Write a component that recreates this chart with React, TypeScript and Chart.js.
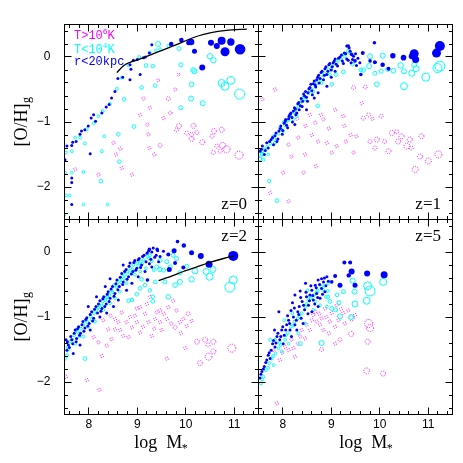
import React, { useEffect, useRef } from 'react';
import { Chart, registerables } from 'chart.js';
Chart.register(...registerables);

const W = 463, H = 463;
const X_MIN = 7.5, X_MAX = 11.5, Y_MIN = -2.5, Y_MAX = 0.5;

// ---------- z = 0 ----------
const z0Inner = [
  [10.11,0.23,3.3],[10.06,0.22,2.5],[10.18,0.09,2.5],[10.52,0.22,3],[10.64,0.17,3],[10.74,0.25,4],[10.93,0.23,3.7],[10.81,0.08,4.5],[11.12,0.12,5.3],[10.34,-0.16,3],[9.91,0.26,2.3],[9.70,0.20,2.3],
  [9.30,0.19],[9.25,0.06],[9.17,0.00],[9.13,-0.01],[9.00,-0.04],[8.92,-0.05],[8.85,-0.12],[8.87,-0.19],[8.70,-0.31],[8.85,-0.35],[8.60,-0.33],[9.06,-0.27],[8.54,-0.53],[8.47,-0.63],[8.42,-0.73],[8.36,-0.77],[8.27,-0.86],[8.10,-0.89],[8.05,-0.94],[8.14,-0.99],[7.99,-1.06],[7.92,-1.12],[7.85,-1.14],[7.82,-1.19],[7.74,-1.30],[7.67,-1.31],[7.65,-1.36],[7.55,-1.37],[8.03,-1.49],[7.65,-1.86],[7.65,-1.93],[7.65,-2.27],[7.51,-1.58]
];
const z0Cold = [
  [11.11,-0.57,5],[10.81,-0.45,4],[10.74,-0.40,3.5],[10.93,-0.36,4],[10.50,0.01,2.7],[10.57,-0.05,2.7],[10.35,-0.71,2.5],[10.11,-0.64,2.5],[10.18,-0.22,2.5],[10.15,-0.20,2.3],[10.12,-0.42,2.3],[9.90,-0.12,2],[9.90,-0.78,2],[9.86,0.13,2],[9.43,0.20,2.5],[9.32,-0.14,1.8],[9.18,-0.13,1.8],[9.37,-0.44,1.8],[9.09,-0.47,1.8],[8.73,-0.65,1.8],[8.93,-1.07,1.8],[8.61,-1.19,1.8],[8.63,-1.61,1.8],[8.25,-1.91,1.8],
  [7.89,-1.77],[7.89,-2.27],[8.39,-2.27],[8.32,-1.22],[8.27,-1.45],[7.92,-1.33],[7.82,-1.24],[9.64,0.17],[9.47,0.12],[9.38,0.10],[9.26,0.07],[9.04,0.00],[8.82,-0.13],[8.68,-0.32],[8.58,-0.49],[8.44,-0.72],[8.29,-0.83],[8.20,-0.91],[8.10,-1.02],[7.96,-1.11],[7.72,-1.24],[7.65,-1.45],[7.65,-1.78],[7.53,-1.47],[7.51,-1.78],[7.53,-2.13],[7.50,-2.42],[7.60,-2.13]
];
const z0Hot = [
  [11.10,-1.51,4],[10.84,-1.42,3.5],[10.76,-1.36,3],[10.74,-1.12,2.5],[10.58,-1.14,2.5],[10.34,-1.31,2.5],[10.12,-1.26,2.5],[10.16,-1.06,2.5],[9.86,-1.06,2.5],[9.81,-1.12,2],[9.64,-0.64,2],[9.68,-0.86,1.8],[9.78,-0.50,1.5],[9.85,-0.27,1.5],[9.43,-0.36,1.5],[9.47,-1.36,2],[9.35,-1.50,1.7],
  [9.25,-1.40],[9.23,-1.19],[9.06,-0.89],[9.26,-0.78],[9.13,-0.64],[9.54,-0.94],[9.21,-1.04],[8.65,-1.41,1.7],[8.56,-1.50],[8.68,-1.71],[8.89,-1.81],[8.51,-1.32],[8.20,-1.81],[7.72,-1.73],[10.57,-1.47,2],[10.64,-1.37,2],[10.71,-1.45,2],[10.54,-1.22,2],[10.23,-1.16,2],[10.02,-1.17,2],[10.12,-1.19,2]
];
const z0Line = [[8.58,-0.24],[8.71,-0.14],[8.82,-0.09],[9.13,-0.01],[9.47,0.09],[9.81,0.19],[10.16,0.30],[10.50,0.37],[10.84,0.41],[11.26,0.43]];

// ---------- z = 1 ----------
const z1Inner = [
  [11.24,0.17,5],[11.17,0.06,4.5],[10.71,0.05,4.5],[10.74,-0.04,3.5],[10.66,0.01,3],[10.49,-0.01,2.8],[10.27,0.02,2.7],[10.06,-0.12,2.3],[10.18,-0.18,2],[9.89,0.22,1.8],[9.90,-0.08,2],[9.80,-0.06,1.8],[9.65,0.06,2],[9.61,-0.27,1.8],[9.49,-0.06,1.8],[9.42,0.04,1.8],[9.35,0.17,1.8],
  [7.53,-1.45],[7.58,-1.37],[7.62,-1.50],[7.67,-1.32],[7.70,-1.40],[7.76,-1.27],[7.81,-1.35],[7.84,-1.21],[7.88,-1.30],[7.92,-1.14],[7.96,-1.06],[7.99,-1.19],[8.03,-1.02],[8.06,-0.96],[8.10,-1.09],[8.13,-0.91],[8.17,-0.86],[8.20,-1.00],[8.24,-0.78],[8.27,-0.89],[8.31,-0.72],[8.34,-0.81],[8.38,-0.64],[8.40,-0.76],[8.45,-0.60],[8.47,-0.53],[8.51,-0.68],[8.54,-0.49],[8.58,-0.42],[8.61,-0.58],[8.65,-0.37],[8.68,-0.46],[8.72,-0.31],[8.75,-0.40],[8.79,-0.24],[8.84,-0.35],[8.87,-0.18],[8.91,-0.27],[8.95,-0.12],[9.00,-0.20],[9.04,-0.09],[9.08,-0.03],[9.13,-0.14],[9.18,0.00],[9.23,-0.06],[9.27,0.06],[9.32,-0.03],[9.37,0.14],[9.41,-0.09],[9.46,0.01],[8.65,-0.63],[8.49,-0.81],[8.25,-1.04],[8.73,-0.55],[8.91,-0.45],[9.00,-0.31],[9.08,-0.22],[9.52,-0.13],[9.59,-0.09],[9.32,0.17],
  [7.56,-1.42],[7.64,-1.44],[7.73,-1.30],[7.79,-1.24],[7.86,-1.17],[7.90,-1.26],[7.95,-1.10],[8.00,-1.13],[8.05,-0.99],[8.08,-1.05],[8.12,-0.95],[8.15,-0.88],[8.19,-0.93],[8.22,-0.83],[8.26,-0.80],[8.29,-0.86],[8.33,-0.70],[8.36,-0.75],[8.41,-0.68],[8.43,-0.57],[8.49,-0.62],[8.52,-0.55],[8.56,-0.47],[8.60,-0.52],[8.63,-0.41],[8.67,-0.43],[8.70,-0.35],[8.74,-0.28],[8.77,-0.33],[8.81,-0.22],[8.86,-0.28],[8.89,-0.15],[8.93,-0.22],[8.97,-0.10],[9.02,-0.15],[9.06,-0.06],[9.10,-0.11],[9.15,-0.02],[9.21,0.03],[9.25,-0.10],[9.30,0.05],[9.35,-0.05],[9.39,0.09],[9.44,-0.04],[9.50,0.05],[9.55,-0.02]
];
const z1Cold = [
  [11.24,-0.14,5],[11.19,-0.17,4.5],[10.95,-0.31,4],[10.50,-0.45,3.5],[10.75,-0.18,3],[10.66,-0.25,3],[10.71,-0.12,2.5],[10.43,-0.13,2.8],[10.50,-0.22,2.5],[10.28,-0.21,2.3],[10.06,0.02,2.5],[9.94,-0.42,2.3],[9.80,0.01,2.5],[9.78,-0.14,2.5],[9.66,-0.20,2.2],[9.90,-0.25,2],[10.03,-0.22,2],[10.16,-0.19,2],[9.61,-0.20,1.8],[9.44,-0.11,1.8],[9.25,-0.23,1.8],[9.10,-0.27,1.8],[9.01,-0.42,1.8],[8.72,-0.75,1.8],[7.88,-2.21,1.8],[7.72,-1.91,1.6],[7.53,-1.57,1.8],[7.57,-1.49,1.6],
  [7.55,-1.53],[7.63,-1.42],[7.74,-1.33],[7.83,-1.26],[7.91,-1.18],[7.98,-1.12],[8.05,-1.05],[8.12,-0.97],[8.18,-0.92],[8.24,-0.85],[8.32,-0.76],[8.39,-0.68],[8.46,-0.65],[8.53,-0.56],[8.60,-0.50],[8.67,-0.44],[8.77,-0.35],[8.84,-0.29],[8.94,-0.19],[9.02,-0.14],[9.11,-0.09],[9.20,-0.03],[9.28,0.01],[9.39,0.06],[8.22,-0.96],[8.01,-1.14],[7.84,-1.32],[8.29,-0.91],[8.63,-0.53],[8.80,-0.40],[8.08,-0.99],[8.97,-0.27],[7.70,-1.50],[7.60,-1.58],
  [7.58,-1.46],[7.68,-1.38],[7.80,-1.22],[7.94,-1.09],[8.02,-1.00],[8.15,-0.90],[8.27,-0.80],[8.36,-0.71],[8.43,-0.62],[8.56,-0.52],[8.70,-0.40],[8.86,-0.25],[9.00,-0.18],[9.15,-0.05],[9.24,0.04],[9.34,0.09]
];
const z1Hot = [
  [11.21,-1.50,3.5],[11.00,-1.60,3],[10.73,-1.73,3],[10.56,-1.37,3],[10.45,-1.22,2.5],[10.62,-1.27,2.5],[10.25,-1.17,2.5],[9.94,-1.27,2.5],[9.80,-1.30,2],[9.66,-0.94,2],[9.77,-0.89,2],[10.03,-0.91,2],[9.52,-1.22],[9.46,-0.47,2],[9.70,-0.46,2],[9.27,-1.06],[9.25,-0.91],[9.11,-1.37],[9.01,-1.47],[8.91,-1.32],[8.73,-1.30],[8.67,-1.01],[8.47,-1.06],[8.46,-1.50],[8.32,-1.24],[8.18,-1.53],[8.12,-1.35],[8.01,-1.78],[7.74,-2.09],[8.12,-2.22],[8.68,-1.68],[8.43,-1.78],[9.46,-1.47],[9.08,-0.81],[7.84,-0.50],[7.58,-0.65],[10.18,-1.45,2.5],[10.38,-1.30,2.5],[10.83,-1.53,2.5],[10.86,-1.22,2.5],[9.63,-0.71],[8.79,-0.89],[8.84,-0.96],[8.56,-0.89],
  [9.30,-1.30],[9.40,-1.20],[9.85,-0.95],[9.90,-1.40,2],[10.10,-1.30,2],[10.35,-1.15,2],[10.65,-1.40,2],[8.95,-1.10],[8.60,-1.20],[8.30,-0.95]
];

// ---------- z = 2 ----------
const z2Inner = [
  [10.98,-0.06,5],[10.48,-0.19,3.5],[10.31,-0.06,3],[10.12,-0.01,2.5],[9.96,0.10,2.2],[9.83,0.16,1.8],[9.76,0.02,2.5],[9.64,-0.04,2],[9.66,-0.27,2.5],[9.78,-0.17,2],[9.95,-0.24,2],[9.21,-0.43,1.8],[9.25,0.04,1.8],[9.41,0.04,1.8],
  [7.53,-1.35],[7.55,-1.51],[7.58,-1.43],[7.63,-1.30],[7.67,-1.41],[7.72,-1.20],[7.75,-1.33],[7.79,-1.15],[7.83,-1.25],[7.88,-1.07],[7.92,-1.17],[7.96,-1.01],[8.01,-1.10],[8.06,-0.92],[8.10,-1.02],[8.15,-0.84],[8.18,-0.94],[8.23,-0.75],[8.27,-0.87],[8.31,-0.69],[8.36,-0.80],[8.40,-0.61],[8.44,-0.71],[8.49,-0.53],[8.54,-0.64],[8.58,-0.43],[8.63,-0.53],[8.68,-0.33],[8.71,-0.46],[8.77,-0.27],[8.82,-0.38],[8.85,-0.17],[8.91,-0.30],[8.95,-0.13],[8.99,-0.25],[9.04,-0.10],[9.09,-0.20],[9.14,-0.05],[9.18,-0.15],[9.23,0.01],[9.28,-0.11],[9.33,0.06],[9.39,-0.05],[9.44,-0.15],[8.51,-0.84],[8.37,-0.94],[8.23,-1.00],[8.61,-0.74],[8.78,-0.59],[8.89,-0.48],[9.02,-0.38],[9.16,-0.30],[9.30,-0.23],[9.47,-0.07],[9.54,0.01],[8.03,-1.20],[7.82,-1.43],[7.68,-1.56],[8.44,-0.41],[8.71,-0.20],[8.34,-0.53],[8.16,-0.69],[7.99,-0.84],
  [7.56,-1.38],[7.60,-1.47],[7.65,-1.35],[7.70,-1.25],[7.74,-1.38],[7.77,-1.18],[7.81,-1.28],[7.86,-1.12],[7.90,-1.22],[7.94,-1.04],[7.98,-1.14],[8.03,-0.96],[8.08,-1.06],[8.12,-0.88],[8.20,-0.80],[8.25,-0.91],[8.29,-0.72],[8.33,-0.84],[8.38,-0.65],[8.42,-0.76],[8.46,-0.57],[8.52,-0.68],[8.56,-0.49],[8.60,-0.58],[8.65,-0.39],[8.70,-0.50],[8.74,-0.30],[8.79,-0.42],[8.83,-0.22],[8.88,-0.34],[8.93,-0.16],[8.97,-0.28],[9.02,-0.12],[9.07,-0.24],[9.11,-0.07],[9.20,-0.02],[9.25,-0.18],[9.30,0.00],[9.36,-0.08],[9.42,0.02]
];
const z2Cold = [
  [10.91,-0.54,5],[10.98,-0.43,4],[10.56,-0.27,3],[10.49,-0.38,3.5],[10.42,-0.30,3],[10.19,-0.29,3],[10.12,-0.42,2.7],[9.88,-0.46,2.5],[9.78,-0.51,2.3],[9.64,-0.69,2.3],[9.57,-0.46,2],[10.02,-0.22,2],[9.47,-0.27,2.2],[9.32,-0.69,1.8],[9.32,-0.76,1.8],[9.26,-0.59,1.8],[9.16,-0.51,1.8],[9.06,-0.56,1.8],[8.99,-0.65,1.8],[8.89,-0.74,1.8],[8.82,-0.75,1.8],[9.09,-0.42,1.8],[9.37,-0.46,1.8],[7.92,-1.64,1.8],[7.51,-1.64,1.6],[7.55,-1.59,1.6],
  [9.47,-0.13,2],[9.40,-0.23,2],[9.54,-0.28,2],[9.68,-0.23,2],[9.61,-0.15,2],[9.81,-0.10,2],[9.74,-0.05,2],[9.88,-0.32,2],
  [7.56,-1.46],[7.61,-1.38],[7.70,-1.28],[7.77,-1.23],[7.81,-1.30],[7.89,-1.12],[7.94,-1.05],[7.99,-1.15],[8.04,-0.99],[8.11,-0.94],[8.16,-0.89],[8.22,-0.82],[8.29,-0.76],[8.34,-0.74],[8.38,-0.69],[8.42,-0.66],[8.47,-0.59],[8.52,-0.51],[8.59,-0.48],[8.64,-0.43],[8.70,-0.38],[8.75,-0.35],[8.80,-0.30],[8.86,-0.25],[8.92,-0.20],[9.00,-0.17],[9.07,-0.15],[9.13,-0.12],[9.21,-0.07],[9.26,-0.05],[8.78,-0.48],[8.64,-0.61],[8.54,-0.71],[8.44,-0.79],[8.30,-0.89],[8.13,-1.07],[7.89,-1.30],[7.72,-1.41],[9.18,-0.25],[9.06,-0.30],[8.95,-0.35],
  [7.58,-1.50],[7.66,-1.35],[7.74,-1.20],[7.84,-1.18],[7.97,-1.08],[8.06,-1.04],[8.19,-0.86],[8.26,-0.82],[8.36,-0.70],[8.49,-0.62],[8.57,-0.54],[8.67,-0.47],[8.73,-0.41],[8.84,-0.32],[8.90,-0.27],[9.03,-0.21],[9.10,-0.18],[9.24,-0.10],[9.30,-0.14],[9.34,-0.28]
];
const z2Hot = [
  [10.95,-1.48,4],[10.47,-1.61,3.5],[10.29,-1.71,2.5],[10.40,-1.35,2.5],[10.23,-1.38,2.5],[10.57,-1.53,2.5],[10.57,-1.38,2.5],[10.05,-0.95,2],[9.95,-1.03],[9.78,-1.16,2],[9.81,-0.90],[9.74,-0.75],[9.61,-1.03],[9.47,-0.90],[9.47,-1.08],[9.37,-1.03],[9.30,-1.29],[9.23,-1.08],[9.16,-0.95],[9.06,-0.85],[8.99,-1.08],[8.89,-1.16],[8.82,-1.31],[8.71,-1.29],[8.68,-0.93],[8.61,-1.08],[8.54,-1.19],[8.47,-1.34],[8.37,-1.44],[8.27,-1.60],[8.20,-1.39],[8.10,-1.31],[7.96,-1.97],[8.22,-2.12],[7.53,-1.92],[8.40,-1.19],[8.78,-1.08],[9.88,-1.08],[10.12,-1.06],[10.02,-1.14],[9.06,-1.24],[9.64,-0.85],[9.26,-0.69],[8.99,-0.87],[8.54,-1.03],[9.61,-1.64],[9.40,-0.93],[9.99,-1.48],[10.46,-1.43,2],
  [8.30,-1.05],[8.45,-0.98],[8.65,-1.20],[8.95,-0.98],[9.12,-1.15],[9.35,-1.18],[9.55,-0.95],[9.70,-1.10],[9.90,-1.25],[8.85,-1.00],[9.20,-0.80],[9.50,-1.20]
];
const z2Line = [[9.44,-0.44],[9.68,-0.38],[9.95,-0.30],[10.23,-0.23],[10.50,-0.16],[10.78,-0.10],[11.00,-0.06]];

// ---------- z = 5 ----------
const z5Inner = [
  [10.09,-0.35,3.5],[9.74,-0.33,3],[9.49,-0.51,2.5],[9.42,-0.30,3],[9.18,-0.51,2.5],[9.27,-0.16,2],[9.39,-0.16,2],[9.08,-0.37,2],[9.01,-0.46,1.8],[9.36,-0.36,2.2],
  [7.53,-1.94],[7.57,-1.84],[7.62,-1.76],[7.67,-1.66],[7.70,-1.59],[7.76,-1.51],[7.79,-1.41],[7.84,-1.46],[7.88,-1.30],[7.92,-0.92],[7.94,-1.35],[7.98,-1.20],[8.03,-1.28],[8.08,-1.12],[8.12,-1.05],[8.15,-1.20],[8.20,-0.78],[8.22,-1.00],[8.25,-1.12],[8.31,-0.92],[8.34,-0.84],[8.38,-1.02],[8.40,-0.76],[8.45,-0.89],[8.47,-0.48],[8.49,-0.69],[8.53,-0.82],[8.56,-0.66],[8.60,-0.59],[8.63,-0.74],[8.67,-0.51],[8.70,-0.64],[8.73,-0.43],[8.77,-0.71],[8.80,-0.56],[8.84,-0.46],[8.87,-0.61],[8.91,-0.38],[7.83,-1.20],[8.01,-1.41],[8.18,-1.30],[8.29,-1.20],[8.42,-1.10],[8.60,-0.92],[8.73,-0.84],[8.80,-0.41],[8.25,-0.66],[8.36,-0.60],
  [7.55,-1.88],[7.60,-1.80],[7.65,-1.70],[7.72,-1.55],[7.74,-1.64],[7.81,-1.36],[7.86,-1.40],[7.90,-1.25],[7.96,-1.30],[8.00,-1.15],[8.06,-1.20],[8.10,-0.98],[8.14,-1.10],[8.17,-0.90],[8.24,-0.86],[8.28,-1.05],[8.33,-0.96],[8.37,-0.70],[8.43,-0.82],[8.48,-0.62],[8.52,-0.95],[8.55,-0.75],[8.58,-0.52],[8.62,-0.67],[8.66,-0.80],[8.69,-0.55],[8.72,-0.70],[8.76,-0.50],[8.82,-0.65],[8.86,-0.40],[8.89,-0.52],[8.94,-0.45]
];
const z5Cold = [
  [10.07,-0.46,3.5],[9.80,-0.60,5],[9.75,-0.52,4],[9.73,-0.75,3.5],[9.48,-0.61,2.5],[9.49,-0.80,3],[9.44,-0.44,2.5],[9.41,-1.00,2.5],[9.18,-0.99,2.5],[9.25,-0.61,2],[9.16,-0.78,2],[9.09,-0.89,2],[9.01,-0.87,2],[8.80,-1.40,2.5],[8.36,-1.41,2],[9.12,-0.66,1.8],[8.93,-0.69,1.8],[8.97,-0.76,1.8],
  [7.55,-2.02],[7.60,-1.92],[7.65,-1.82],[7.72,-1.71],[7.77,-1.64],[7.81,-1.74],[7.85,-1.56],[7.91,-1.48],[7.96,-1.43],[8.05,-1.35],[8.10,-1.25],[8.17,-1.15],[8.24,-1.07],[8.31,-1.02],[8.39,-0.94],[8.46,-0.84],[8.53,-0.74],[8.58,-0.71],[8.65,-0.66],[8.72,-0.59],[8.79,-0.53],[8.86,-0.52],[8.89,-0.69],[8.94,-0.48],[7.84,-1.35],[7.98,-1.53],[8.12,-1.41],[8.32,-1.25],[8.46,-1.10],[8.63,-0.89],[8.77,-0.82],[8.91,-0.84],[7.74,-1.35],[8.03,-1.05],[8.20,-0.94],[8.51,-0.59],[8.67,-0.76],
  [7.58,-1.96],[7.70,-1.78],[7.80,-1.60],[7.93,-1.40],[8.07,-1.28],[8.22,-1.13],[8.35,-0.99],[8.49,-0.80],[8.56,-0.68],[8.70,-0.62],[8.83,-0.58],[8.93,-0.60]
];
const z5Hot = [
  [9.77,-1.10,4],[9.80,-1.17,3.5],[9.73,-1.83,3],[10.07,-1.87,2.5],[9.75,-1.38,2.5],[9.42,-1.02,2.5],[9.41,-1.26,2.5],[9.18,-1.35,2],[9.08,-1.15],[9.25,-0.94],[9.01,-0.94],[8.97,-1.07],[8.84,-1.20],[8.80,-1.50,2],[8.80,-1.02],[8.70,-1.07],[8.63,-0.97],[8.56,-1.20],[8.46,-1.33],[8.36,-1.30],[8.31,-1.41],[8.22,-1.48],[8.12,-1.51],[8.05,-1.46],[7.99,-1.55],[7.94,-1.66],[7.81,-1.51],[7.88,-2.33],[8.25,-1.61],[8.39,-1.20],[8.67,-0.92],[8.87,-0.87],[9.11,-0.82],[8.77,-1.12],[8.49,-1.12],[9.28,-1.10],[9.08,-1.41],[8.18,-1.35],[9.49,-0.97],[8.90,-1.00],[9.15,-1.05],[8.60,-1.05],[8.95,-1.25],[9.20,-0.88],[8.75,-0.95],[9.35,-0.90]
];

const redshiftLabels = ['z=0', 'z=1', 'z=2', 'z=5'];
const xTickValues = [8, 9, 10, 11];
const yTickValues = [-2, -1, 0];

type Panel = {
  L: number; R: number; T: number; B: number;
  showX: boolean; showY: boolean; label: string;
  inner: number[][]; cold: number[][]; hot: number[][]; line?: number[][];
  legend?: boolean; bottomRow: boolean; xTitleX: number; yTitleY: number;
};

const PANELS: Panel[] = [
  { L: 64.5, R: 258.5, T: 24.5, B: 219.5, showX: false, showY: true, label: redshiftLabels[0], inner: z0Inner, cold: z0Cold, hot: z0Hot, line: z0Line, legend: true, bottomRow: false, xTitleX: 162, yTitleY: 122 },
  { L: 258.5, R: 452.5, T: 24.5, B: 219.5, showX: false, showY: false, label: redshiftLabels[1], inner: z1Inner, cold: z1Cold, hot: z1Hot, bottomRow: false, xTitleX: 367, yTitleY: 122 },
  { L: 64.5, R: 258.5, T: 219.5, B: 414.5, showX: true, showY: true, label: redshiftLabels[2], inner: z2Inner, cold: z2Cold, hot: z2Hot, line: z2Line, bottomRow: true, xTitleX: 162, yTitleY: 317 },
  { L: 258.5, R: 452.5, T: 219.5, B: 414.5, showX: true, showY: false, label: redshiftLabels[3], inner: z5Inner, cold: z5Cold, hot: z5Hot, bottomRow: true, xTitleX: 367, yTitleY: 317 },
];

const toPts = (arr: number[][], r0: number) => arr.map(a => ({ x: a[0], y: a[1], r: a.length > 2 ? a[2] : r0 }));
const fmt = (v: number) => (v < 0 ? '\u2212' + Math.abs(v) : String(v));
const crisp = (v: number) => Math.round(v - 0.5) + 0.5;

function build(canvas: HTMLCanvasElement, p: Panel) {
  const datasets: any[] = [];
  if (p.line) {
    datasets.push({ type: 'line', data: p.line.map(a => ({ x: a[0], y: a[1] })), borderColor: '#000', borderWidth: 1.3, pointRadius: 0, fill: false, tension: 0.3, order: 0 });
  }
  datasets.push({ label: 'r<20kpc', data: toPts(p.inner, 1.5), backgroundColor: '#0000ff', borderColor: '#0000ff', borderWidth: 0, order: 1 });
  datasets.push({ label: 'T<10^4K', data: toPts(p.cold, 1.4), backgroundColor: 'rgba(0,0,0,0)', borderColor: '#00ffff', borderWidth: 1, order: 2 });
  datasets.push({ label: 'T>10^6K', data: toPts(p.hot, 1.6), backgroundColor: 'rgba(0,0,0,0)', borderColor: '#ff00ff', borderWidth: 1, order: 3, dotted: true });

  const dotPlugin = {
    id: 'dotted',
    beforeDatasetDraw(chart: any, args: any) {
      if (chart.data.datasets[args.index].dotted) { chart.ctx.save(); chart.ctx.setLineDash([1, 1.3]); }
    },
    afterDatasetDraw(chart: any, args: any) {
      if (chart.data.datasets[args.index].dotted) chart.ctx.restore();
    },
  };

  const framePlugin = {
    id: 'frame',
    afterDraw(chart: any) {
      const { ctx, chartArea: a } = chart;
      const xs = chart.scales.x, ys = chart.scales.y;
      ctx.save();
      ctx.strokeStyle = '#000';
      ctx.lineWidth = 1;
      ctx.setLineDash([]);
      ctx.strokeRect(a.left, a.top, a.right - a.left, a.bottom - a.top);
      ctx.beginPath();
      for (let k = Math.ceil(X_MIN * 5); k <= Math.floor(X_MAX * 5); k++) {
        const px = crisp(xs.getPixelForValue(k / 5));
        const len = k % 5 === 0 ? 7 : 3.5;
        ctx.moveTo(px, a.bottom); ctx.lineTo(px, a.bottom - len);
        ctx.moveTo(px, a.top); ctx.lineTo(px, a.top + len);
      }
      for (let k = Math.ceil(Y_MIN * 5); k <= Math.floor(Y_MAX * 5); k++) {
        const py = crisp(ys.getPixelForValue(k / 5));
        const len = k % 5 === 0 ? 7 : 3.5;
        ctx.moveTo(a.left, py); ctx.lineTo(a.left + len, py);
        ctx.moveTo(a.right, py); ctx.lineTo(a.right - len, py);
      }
      ctx.stroke();

      // redshift label
      ctx.fillStyle = '#000';
      ctx.font = '17px "Liberation Serif"';
      ctx.textAlign = 'right';
      ctx.textBaseline = 'alphabetic';
      if (p.bottomRow) ctx.fillText(p.label, a.right - 11.5, a.top + 21.5);
      else ctx.fillText(p.label, a.right - 11.5, a.bottom - 11);

      // legend
      if (p.legend) {
        ctx.textAlign = 'left';
        const drawSup = (base: string, sup: string, tail: string, x: number, y: number, color: string) => {
          ctx.fillStyle = color;
          ctx.font = '12px "Liberation Mono"';
          ctx.fillText(base, x, y);
          let w = ctx.measureText(base).width;
          ctx.font = '8px "Liberation Mono"';
          ctx.fillText(sup, x + w, y - 4.5);
          w += ctx.measureText(sup).width;
          ctx.font = '12px "Liberation Mono"';
          ctx.fillText(tail, x + w, y);
        };
        drawSup('T>10', '6', 'K', a.left + 9.5, 38.5, '#ff00ff');
        drawSup('T<10', '4', 'K', a.left + 9.5, 52.5, '#00ffff');
        ctx.fillStyle = '#0000ff';
        ctx.font = '12px "Liberation Mono"';
        ctx.fillText('r<20kpc', a.left + 9.5, 65);
      }

      // y title
      if (p.showY) {
        ctx.save();
        ctx.fillStyle = '#000';
        ctx.translate(27, p.yTitleY);
        ctx.rotate(-Math.PI / 2);
        ctx.font = '18px "Liberation Serif"';
        const w1 = ctx.measureText('[O/H]').width;
        ctx.font = '12px "Liberation Serif"';
        const w2 = ctx.measureText('g').width;
        const x0 = -(w1 + w2) / 2;
        ctx.textAlign = 'left';
        ctx.font = '18px "Liberation Serif"';
        ctx.fillText('[O/H]', x0, 0);
        ctx.font = '12px "Liberation Serif"';
        ctx.fillText('g', x0 + w1 + 0.5, 3);
        ctx.restore();
      }
      // x title
      if (p.showX) {
        ctx.fillStyle = '#000';
        ctx.textAlign = 'left';
        ctx.font = '18px "Liberation Serif"';
        const w1 = ctx.measureText('log M').width;
        ctx.font = '12px "Liberation Serif"';
        const w2 = ctx.measureText('*').width;
        const x0 = p.xTitleX - (w1 + w2) / 2;
        ctx.font = '18px "Liberation Serif"';
        ctx.fillText('log  M', x0 - 3, 448);
        ctx.font = '12px "Liberation Serif"';
        ctx.fillText('*', x0 + w1 + 1, 452);
      }
      ctx.restore();
    },
  };

  return new Chart(canvas, {
    type: 'bubble',
    data: { datasets },
    options: {
      responsive: false,
      animation: false,
      devicePixelRatio: 1,
      events: [],
      layout: { padding: { left: 0, top: p.T, right: W - p.R, bottom: 0 } },
      plugins: { legend: { display: false }, tooltip: { enabled: false } },
      scales: {
        x: {
          type: 'linear', position: 'bottom', min: X_MIN, max: X_MAX,
          grid: { display: false, drawTicks: false },
          border: { display: false },
          ticks: { display: p.showX, stepSize: 1, padding: 3, color: '#000', autoSkip: false, maxRotation: 0, font: { family: 'Liberation Sans', size: 12 }, callback: (v: any) => fmt(Number(v)) },
          afterBuildTicks: (s: any) => { s.ticks = xTickValues.map(v => ({ value: v })); },
          afterFit: (s: any) => { s.height = H - p.B; },
        },
        y: {
          type: 'linear', position: 'left', min: Y_MIN, max: Y_MAX,
          grid: { display: false, drawTicks: false },
          border: { display: false },
          ticks: { display: p.showY, stepSize: 1, padding: 14, color: '#000', autoSkip: false, font: { family: 'Liberation Sans', size: 12 }, callback: (v: any) => fmt(Number(v)) },
          afterBuildTicks: (s: any) => { s.ticks = yTickValues.map(v => ({ value: v })); },
          afterFit: (s: any) => { s.width = p.L; },
        },
      },
    } as any,
    plugins: [dotPlugin, framePlugin],
  });
}

export default function App() {
  const refs = useRef<(HTMLCanvasElement | null)[]>([]);
  useEffect(() => {
    const charts = PANELS.map((p, i) => build(refs.current[i] as HTMLCanvasElement, p));
    return () => charts.forEach(c => c.destroy());
  }, []);
  return (
    <div style={{ position: 'fixed', left: 0, top: 0, width: W, height: H, background: '#fff' }}>
      {PANELS.map((_, i) => (
        <canvas
          key={i}
          ref={el => { refs.current[i] = el; }}
          width={W}
          height={H}
          style={{ position: 'absolute', left: 0, top: 0, width: W, height: H }}
        />
      ))}
    </div>
  );
}
